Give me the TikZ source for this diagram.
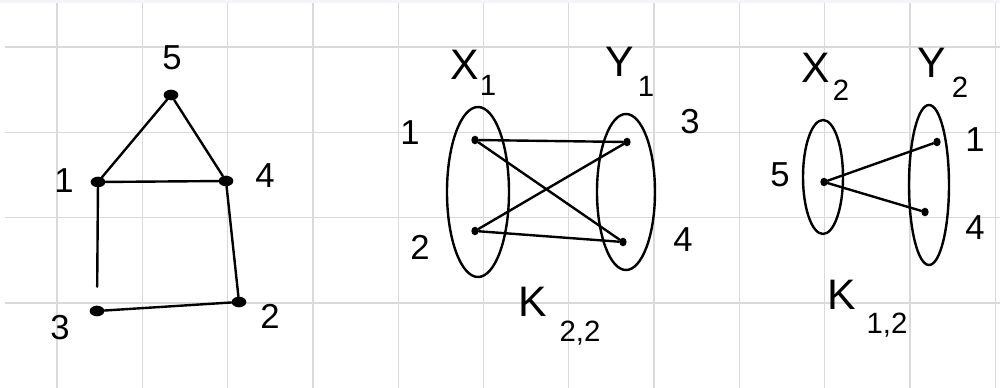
\documentclass[tikz,border=0pt]{standalone}
\usepackage{fontspec}
\setmainfont{Liberation Sans}
\usetikzlibrary{shapes.geometric}
\definecolor{gridgray}{RGB}{218,218,218}
\definecolor{topgray}{RGB}{244,245,248}

\begin{document}
\begin{tikzpicture}[x=0.75pt,y=-0.75pt,
  blob/.style={ellipse,fill=black,inner sep=0pt,minimum width=11pt,minimum height=8pt},
  dot/.style={ellipse,fill=black,inner sep=0pt,minimum width=5.5pt,minimum height=6.5pt},
  part/.style={ellipse,draw=black,line width=1.8pt,inner sep=0pt},
  edge/.style={draw=black,line width=1.8pt,line cap=round},
  lbl/.style={font=\fontsize{26}{26}\selectfont,inner sep=0pt},
  big/.style={font=\fontsize{32}{32}\selectfont,inner sep=0pt},
  sub/.style={font=\fontsize{22}{22}\selectfont,inner sep=0pt}]
\useasboundingbox (0,0) rectangle (1000,388);
\path[fill=white] (0,0) rectangle (1000,388);
\path[fill=topgray] (0,0) rectangle (1000,3);
% grid paper:
\foreach \k in {0,...,11}
  \path[draw=gridgray,line width=1pt] ({57+85.3*\k},3) -- ({57+85.3*\k},388);
\foreach \k in {0,...,3}
  \path[draw=gridgray,line width=1pt] (5,{47+85.3*\k}) -- (1000,{47+85.3*\k});

% the house graph:
\node[blob] (h5) at (171,95) {};
\node[blob] (h1) at (98,182) {};
\node[blob] (h4) at (226,181) {};
\node[blob] (h3) at (97,311) {};
\node[blob] (h2) at (239,302) {};
\node[lbl] (lh5) at (172,58) {5};
\node[lbl] (lh1) at (64,181) {1};
\node[lbl] (lh4) at (265,176) {4};
\node[lbl] (lh3) at (60,328) {3};
\node[lbl] (lh2) at (270,316) {2};
\path[edge] (h1) -- (h5);
\path[edge] (h5) -- (h4);
\path[edge] (h1) -- (h4);
\path[edge,shorten >=14pt] (h1) -- (h3);
\path[edge] (h4) -- (h2);
\path[edge] (h3) -- (h2);

% K_{2,2}:
\node[part,minimum width=46.5pt,minimum height=127.5pt] (X1) at (478,192) {};
\node[part,minimum width=43.5pt,minimum height=117pt] (Y1) at (626,192) {};
\node[dot] (a1) at (475,140) {};
\node[dot] (a2) at (475,231) {};
\node[dot] (a3) at (627,142) {};
\node[dot] (a4) at (623,242) {};
\node[lbl] (la1) at (410,133) {1};
\node[lbl] (la2) at (420,247) {2};
\node[lbl] (la3) at (690,122) {3};
\node[lbl] (la4) at (683,240) {4};
\node[big] (lX1) at (465,65) {X};
\node[sub] (sX1) at (488,85) {1};
\node[big] (lY1) at (620,62) {Y};
\node[sub] (sY1) at (646,86) {1};
\node[big] (lK1) at (533,302) {K};
\node[sub] (sK1) at (580,333) {2,2};
\path[edge] (a1) -- (a3);
\path[edge] (a1) -- (a4);
\path[edge] (a2) -- (a3);
\path[edge] (a2) -- (a4);

% K_{1,2}:
\node[part,minimum width=30pt,minimum height=85.5pt] (X2) at (823,177) {};
\node[part,minimum width=30pt,minimum height=120pt] (Y2) at (929,185) {};
\node[dot] (b5) at (824,182) {};
\node[dot] (b1) at (937,142) {};
\node[dot] (b4) at (925,212) {};
\node[lbl] (lb5) at (780,175) {5};
\node[lbl] (lb1) at (975,140) {1};
\node[lbl] (lb4) at (975,228) {4};
\node[big] (lX2) at (816,68) {X};
\node[sub] (sX2) at (841,90) {2};
\node[big] (lY2) at (932,63) {Y};
\node[sub] (sY2) at (960,87) {2};
\node[big] (lK2) at (842,295) {K};
\node[sub] (sK2) at (887,325) {1,2};
\path[edge] (b5) -- (b1);
\path[edge] (b5) -- (b4);
\end{tikzpicture}
\end{document}
